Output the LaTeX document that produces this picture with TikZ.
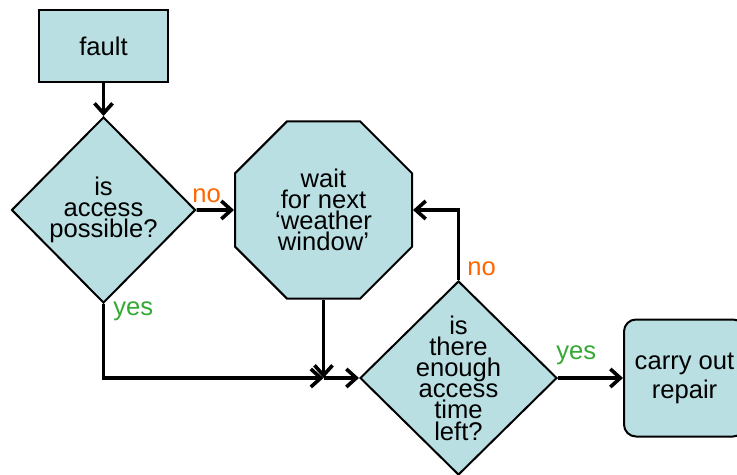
\documentclass[tikz,border=0pt]{standalone}
\usepackage{xcolor}
\usepackage{fontspec}
\setmainfont{Liberation Sans}
\usepackage{tikz}
\usetikzlibrary{shapes,arrows.meta}
\definecolor{boxfill}{RGB}{185,223,227}
\definecolor{noorange}{RGB}{255,102,0}
\definecolor{yesgreen}{RGB}{51,170,51}
\tikzstyle{block} = [rectangle, draw, fill=boxfill, line width=1pt, text centered,
    minimum width=64.5pt, minimum height=36pt]
\tikzstyle{decision} = [diamond, draw, fill=boxfill, line width=1pt, align=center, inner sep=-10pt]
\tikzstyle{waitBlock} = [regular polygon, regular polygon sides=8, draw, fill=boxfill,
    line width=1pt, align=center, inner sep=0pt, minimum size=95.8pt]
\tikzstyle{endBlock} = [rectangle, draw, fill=boxfill, line width=1pt, rounded corners=6pt,
    align=center, minimum width=60.5pt, minimum height=58.5pt, font=\fontsize{12.8}{14.5}\selectfont]
\tikzstyle{line} = [draw, line width=1.8pt, -{Straight Barb[length=5pt,width=9pt]}]
\tikzstyle{noLabel} = [text=noorange, inner sep=1.5pt]
\tikzstyle{yesLabel} = [text=yesgreen, inner sep=1.5pt]

\begin{document}
\begin{tikzpicture}[x=0.5pt, y=-0.5pt, node distance=82pt, font=\fontsize{12.8}{10.6}\selectfont]
    \useasboundingbox (0,0) rectangle (737,475);
    % Place nodes
    \node [block] (fault) at (103.5,46) {fault};
    \node [decision, below of=fault, minimum width=92pt, minimum height=93pt] (access) {is\\access\\possible?};
    \node [waitBlock, right of=access, node distance=110pt] (wait) {wait\\for next\\‘weather\\window’};
    \node [decision, below of=wait, node distance=84pt, xshift=67.5pt,
        minimum width=98.5pt, minimum height=97pt] (enough) {is\\there\\enough\\access\\time\\left?};
    \node [endBlock, right of=enough, node distance=113pt] (repair) {carry out\\repair};
    \coordinate [below of=wait, node distance=84pt] (join);

    % Draw edges
    \path [line] (fault) -- (access);
    \path [line] (access) -- node [noLabel, pos=0.27, above=1pt] {no} (wait);
    \path [line] (access) |- node [yesLabel, pos=0.05, right=2.5pt] {yes} (join);
    \path [line] (wait) -- (join);
    \path [line] (join) -- (enough);
    \path [line] (enough) |- node [noLabel, pos=0.08, right=2pt] {no} (wait);
    \path [line] (enough) -- node [yesLabel, pos=0.28, above=4pt] {yes} (repair);
\end{tikzpicture}
\end{document}
